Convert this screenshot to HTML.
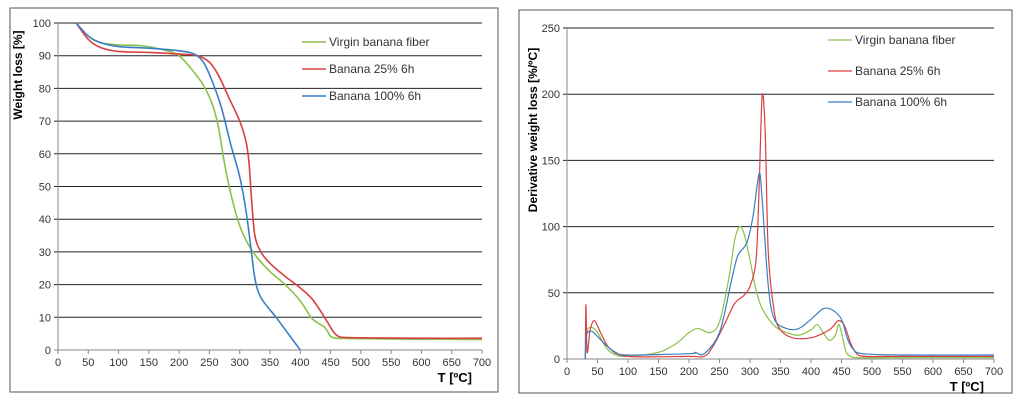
<!DOCTYPE html>
<html><head><meta charset="utf-8">
<style>
body{margin:0;background:#fff;width:1024px;height:407px;overflow:hidden;font-family:"Liberation Sans",sans-serif}
</style></head>
<body>
<svg width="1024" height="407" id="svg" font-family="Liberation Sans, sans-serif">
<rect x="10" y="8" width="488" height="384" fill="#fff" stroke="#555"/>
<rect x="519" y="10" width="493" height="383" fill="#fff" stroke="#555"/>
<g id="left"></g>
<g id="right"></g>
</svg>
<script>
const xTicks=[0,50,100,150,200,250,300,350,400,450,500,550,600,650,700];
const leftYTicks=[0,10,20,30,40,50,60,70,80,90,100];
const rightYTicks=[0,50,100,150,200,250];
const seriesNames=["Virgin banana  fiber","Banana  25% 6h","Banana  100% 6h"];
const seriesColors=["#8cc04a","#d94040","#3a7fc4"];
const tgaGreen=[[30,100],[50,96],[70,94],[100,93.3],[140,93],[180,91.5],[200,90],[220,86],[240,81],[255,75],[265,68],[275,57],[285,48],[300,38],[315,32],[330,28],[350,24],[375,20],[400,15],[420,9.5],[440,7],[450,4.2],[460,3.6],[480,3.5],[520,3.4],[600,3.3],[700,3.2]];
const tgaRed=[[30,100],[50,95],[70,92.5],[100,91.3],[150,91],[200,90.5],[230,90],[250,88],[265,84],[280,78],[300,70],[310,64],[315,58],[320,45],[325,35],[335,30],[350,26.5],[375,22.5],[400,19],[420,15.5],[440,10],[455,5.5],[465,4],[480,3.8],[520,3.7],[600,3.6],[700,3.6]];
const tgaBlue=[[30,100],[50,96],[70,94],[100,92.8],[150,92.3],[200,91.5],[225,90.5],[240,88],[255,82],[270,74],[285,63],[300,53],[310,43],[318,32],[325,22],[335,16],[360,10],[380,5],[400,0]];
const dtgGreen=[[30,0],[32,20],[40,24],[50,20],[65,8],[80,3],[100,2],[150,5],[180,12],[200,20],[215,23],[235,20],[250,28],[265,60],[275,90],[283,100],[290,95],[300,75],[310,52],[320,38],[340,25],[360,20],[380,18],[400,22],[410,26],[420,20],[430,14],[440,18],[445,26],[450,20],[457,6],[465,2],[480,1],[550,1],[700,1]];
const dtgRed=[[30,0],[31,41],[33,5],[38,22],[45,29],[55,20],[70,8],[100,2],[200,2],[225,2],[240,10],[260,28],[275,42],[290,48],[300,55],[310,75],[315,130],[320,199],[325,170],[330,80],[340,35],[350,22],[370,16],[400,16],[430,22],[445,29],[455,25],[465,12],[475,4],[490,2],[550,2],[700,2]];
const dtgBlue=[[30,0],[32,18],[40,21],[50,17],[65,10],[80,5],[100,3],[200,4],[210,5],[225,4],[250,20],[270,60],[280,78],[295,88],[305,108],[315,140],[320,120],[330,55],[340,30],[360,23],[380,23],[400,30],[420,38],[435,37],[450,30],[460,15],[470,7],[485,4],[550,3],[700,3]];
const NS="http://www.w3.org/2000/svg";
function mk(p,t,a){const e=document.createElementNS(NS,t);for(const k in a)e.setAttribute(k,a[k]);p.appendChild(e);return e;}
function smooth(pts){
 let d='M'+pts[0][0]+','+pts[0][1];
 for(let i=0;i<pts.length-1;i++){
  const p0=pts[Math.max(0,i-1)],p1=pts[i],p2=pts[i+1],p3=pts[Math.min(pts.length-1,i+2)];
  const t=0.16;
  const c1=[p1[0]+(p2[0]-p0[0])*t,p1[1]+(p2[1]-p0[1])*t];
  const c2=[p2[0]-(p3[0]-p1[0])*t,p2[1]-(p3[1]-p1[1])*t];
  d+=' C'+c1[0]+','+c1[1]+' '+c2[0]+','+c2[1]+' '+p2[0]+','+p2[1];
 }
 return d;
}
function chart(g,cfg){
 const sx=v=>cfg.x0+(cfg.x1-cfg.x0)*v/700;
 const sy=v=>cfg.y0-(cfg.y0-cfg.y1)*v/cfg.ymax;
 cfg.yTicks.forEach(t=>{
  const l=mk(g,'line',{x1:sx(0)-4,x2:sx(700),y1:sy(t),y2:sy(t),stroke:t===0?'#888':'#222','stroke-width':1});
  
  
  const tx=mk(g,'text',{x:sx(0)-7,y:sy(t)+4,'text-anchor':'end','font-size':11,fill:'#333'});tx.textContent=t;
  
  
 });
 mk(g,'line',{x1:sx(0),x2:sx(0),y1:sy(cfg.ymax),y2:sy(0),stroke:'#888'});
 xTicks.forEach(t=>{
  mk(g,'line',{x1:sx(t),x2:sx(t),y1:sy(0),y2:sy(0)+4,stroke:'#888'});
  const tx=mk(g,'text',{x:sx(t),y:sy(0)+16,'text-anchor':'middle','font-size':11,fill:'#333'});tx.textContent=t;
  
  
 });
 const xt=mk(g,'text',{x:sx(700)-10,y:sy(0)+32,'text-anchor':'end','font-size':13,'font-weight':'bold'});xt.textContent='T [ºC]';
 
 
 const yt=mk(g,'text',{x:0,y:0,'text-anchor':'middle','font-size':12,'font-weight':'bold',transform:`translate(${cfg.ytx},${cfg.yty}) rotate(-90)`});yt.textContent=cfg.ytitle;
 
 
 cfg.series.forEach((s,i)=>{
  const p=mk(g,'path',{d:smooth(s.map(d=>[sx(d[0]),sy(d[1])])),fill:'none',stroke:seriesColors[i],'stroke-width':cfg.sw,'stroke-linejoin':'round'});
  
  
  const ly=cfg.ly+i*cfg.ld;
  const ll=mk(g,'line',{x1:cfg.lx,x2:cfg.lx+24,y1:ly,y2:ly,stroke:seriesColors[i],'stroke-width':cfg.sw});
  
  
  const lt=mk(g,'text',{x:cfg.lx+27,y:ly+4,'font-size':12,fill:'#333'});lt.textContent=seriesNames[i];
  
  
 });
}
chart(document.getElementById('left'),{x0:58,x1:482,y0:350,y1:23,ymax:100,yTicks:leftYTicks,series:[tgaGreen,tgaRed,tgaBlue],ytitle:'Weight loss  [%]',ytx:22,yty:75,lx:302,ly:42,ld:27,sw:1.6});
chart(document.getElementById('right'),{x0:567,x1:994,y0:359,y1:28,ymax:250,yTicks:rightYTicks,series:[dtgGreen,dtgRed,dtgBlue],ytitle:'Derivative weight loss  [%/ºC]',ytx:537,yty:130,lx:828,ly:40,ld:31,sw:1.2});
</script>
</body></html>
